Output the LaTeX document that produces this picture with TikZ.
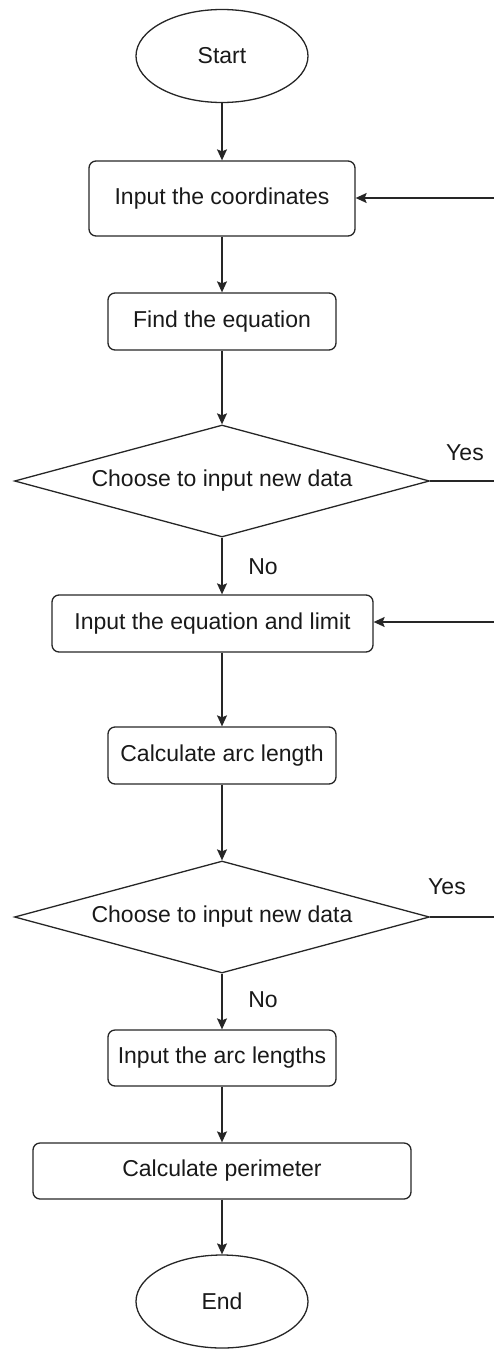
\documentclass[tikz,border=0pt]{standalone}
\usepackage{fontspec}
\setmainfont{Liberation Sans}
\usetikzlibrary{shapes.geometric,arrows.meta}
\tikzset{
  base/.style={draw=black!85, line width=1.3pt, font=\fontsize{23}{27}\selectfont, text=black!90, inner sep=0pt},
  term/.style={base, ellipse, minimum width=172pt, minimum height=93pt},
  proc/.style={base, rectangle, rounded corners=7pt, minimum height=57pt},
  decide/.style={base, diamond, shape aspect=3.7, minimum width=415pt, minimum height=112pt},
  conn/.style={line width=1.3pt, draw=black!85, -{Stealth[length=11pt,width=10pt,inset=2pt]}},
  plain/.style={line width=1.3pt, draw=black!85},
  lbl/.style={font=\fontsize{23}{27}\selectfont, text=black!90, inner sep=0pt}
}
\begin{document}
\begin{tikzpicture}[x=1pt,y=-1pt]
\useasboundingbox (0,0) rectangle (494,1349);
\node[term] (start) at (222,56) {Start};
\node[proc, minimum width=266pt, minimum height=75pt] (b1) at (222,198.5) {Input the coordinates};
\node[proc, minimum width=228pt] (b2) at (222,321.5) {Find the equation};
\node[decide] (d1) at (222,481) {Choose to input new data};
\node[proc, minimum width=321pt] (b3) at (212.5,623.5) {Input the equation and limit};
\node[proc, minimum width=228pt] (b4) at (222,755.5) {Calculate arc length};
\node[decide] (d2) at (222,917) {Choose to input new data};
\node[proc, minimum width=228pt, minimum height=56pt] (b5) at (222,1058) {Input the arc lengths};
\node[proc, minimum width=378pt, minimum height=56pt] (b6) at (222,1171) {Calculate perimeter};
\node[term] (end) at (222,1301.5) {End};

\coordinate (r1) at (494,198);
\coordinate (r2) at (494,481);
\coordinate (r3) at (494,622);
\coordinate (r4) at (494,917);

\draw[conn] (start.south) -- (b1.north);
\draw[conn] (b1.south) -- (b2.north);
\draw[conn] (b2.south) -- (d1.north);
\draw[conn] (d1.south) -- (d1.south |- b3.north);
\draw[conn] (b3.south -| b4.north) -- (b4.north);
\draw[conn] (b4.south) -- (d2.north);
\draw[conn] (d2.south) -- (b5.north);
\draw[conn] (b5.south) -- (b6.north);
\draw[conn] (b6.south) -- (end.north);

\draw[conn] (r1) -- (b1.east |- r1);
\draw[conn] (r3) -- (b3.east |- r3);
\draw[plain] (d1.east) -- (r2);
\draw[plain] (d2.east) -- (r4);

\node[lbl] (yes1) at (465,453) {Yes};
\node[lbl] (no1) at (263,567) {No};
\node[lbl] (yes2) at (447,887) {Yes};
\node[lbl] (no2) at (263,1000) {No};
\end{tikzpicture}
\end{document}
